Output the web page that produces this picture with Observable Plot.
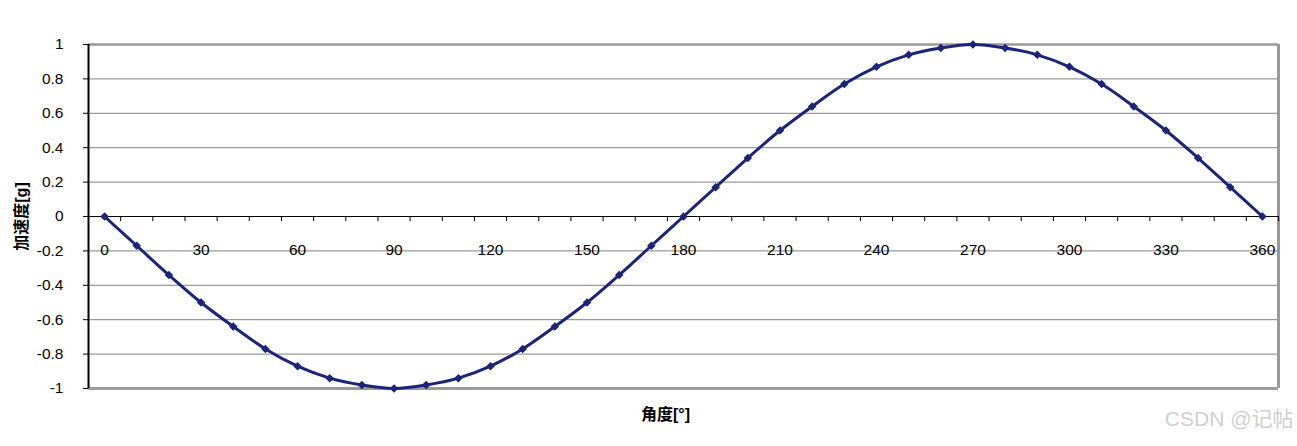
<!DOCTYPE html>
<html>
<head>
<meta charset="utf-8">
<script src="https://cdn.jsdelivr.net/npm/d3@7"></script>
<script src="https://cdn.jsdelivr.net/npm/@observablehq/plot@0.6"></script>
<style>
  html, body { margin: 0; padding: 0; background: #fff; }
</style>
</head>
<body>
<div id="chart"></div>
<script>
const angles = [0, 10, 20, 30, 40, 50, 60, 70, 80, 90, 100, 110, 120, 130, 140, 150, 160, 170, 180,
  190, 200, 210, 220, 230, 240, 250, 260, 270, 280, 290, 300, 310, 320, 330, 340, 350, 360];
const accel = [0, -0.17, -0.34, -0.5, -0.64, -0.77, -0.87, -0.94, -0.98, -1, -0.98, -0.94, -0.87, -0.77, -0.64, -0.5, -0.34, -0.17, 0,
  0.17, 0.34, 0.5, 0.64, 0.77, 0.87, 0.94, 0.98, 1, 0.98, 0.94, 0.87, 0.77, 0.64, 0.5, 0.34, 0.17, 0];
const xLabels = [0, 30, 60, 90, 120, 150, 180, 210, 240, 270, 300, 330, 360];
const xTickPositions = [5, 15, 25, 35, 45, 55, 65, 75, 85, 95, 105, 115, 125, 135, 145, 155, 165, 175, 185,
  195, 205, 215, 225, 235, 245, 255, 265, 275, 285, 295, 305, 315, 325, 335, 345, 355, 365];
const yTicks = [-1, -0.8, -0.6, -0.4, -0.2, 0, 0.2, 0.4, 0.6, 0.8, 1];
const yGrid = [-0.8, -0.6, -0.4, -0.2, 0.2, 0.4, 0.6, 0.8];
const xDomain = [-5, 365];
const yDomain = [-1, 1];
const yTitle = "加速度[g]";
const xTitle = "角度[°]";
const watermark = "CSDN @记帖";

const data = angles.map((a, i) => ({angle: a, value: accel[i]}));
const navy = "#1b237a";

const chart = Plot.plot({
  width: 1297,
  height: 446,
  marginLeft: 88,
  marginRight: 19,
  marginTop: 44,
  marginBottom: 58,
  style: {fontFamily: "'Liberation Sans', Arial, 'Noto Sans CJK SC', sans-serif", fontSize: "15.5px", background: "#fff", color: "#000"},
  x: {domain: xDomain, axis: null},
  y: {domain: yDomain, axis: null},
  marks: [
    Plot.ruleY(yGrid, {stroke: "#808080", strokeWidth: 1, strokeOpacity: 1}),
    Plot.ruleY([1], {stroke: "#999", strokeWidth: 2.5}),
    Plot.ruleY([-1], {stroke: "#999", strokeWidth: 3}),
    Plot.ruleX([365], {stroke: "#999", strokeWidth: 3}),
    Plot.ruleY([0], {stroke: "#000", strokeWidth: 1}),
    Plot.ruleX(xTickPositions, {y1: 0, y2: -0.03, stroke: "#000", strokeWidth: 1}),
    Plot.ruleX([-5], {stroke: "#000", strokeWidth: 2}),
    Plot.axisY(yTicks, {
      anchor: "left",
      tickSize: 5,
      tickPadding: 20,
      tickFormat: d => String(Math.round(d * 10) / 10),
      fontSize: 15.5,
      label: null
    }),
    Plot.text(xLabels, {x: d => d, y: () => 0, dy: 34, text: d => String(d), fontSize: 15.5, fill: "#000"}),
    Plot.line(data, {x: "angle", y: "value", stroke: navy, strokeWidth: 3, curve: "catmull-rom"}),
    Plot.dot(data, {x: "angle", y: "value", symbol: "square", rotate: 45, r: 3.4, fill: navy, stroke: "none"}),
    Plot.text([yTitle], {frameAnchor: "left", textAnchor: "middle", text: d => d, rotate: -90, dx: -67, fontWeight: "bold", fontSize: 16, fill: "#000"}),
    Plot.text([xTitle], {frameAnchor: "bottom", text: d => d, dx: -18, dy: 31, fontWeight: "bold", fontSize: 16, fill: "#000"}),
    Plot.text([watermark], {frameAnchor: "bottom-right", text: d => d, dx: 15, dy: 37, textAnchor: "end", fontSize: 21, fill: "#cfcfcf"})
  ]
});
document.getElementById("chart").appendChild(chart);
</script>
</body>
</html>
